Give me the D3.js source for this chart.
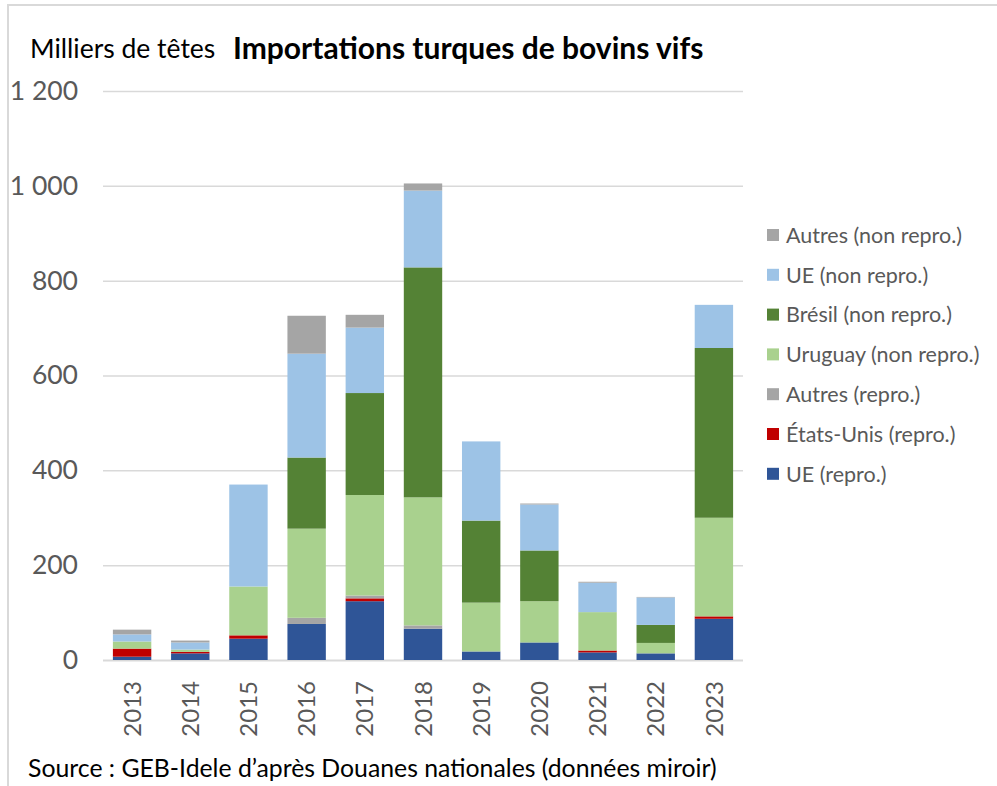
<!DOCTYPE html>
<html>
<head>
<meta charset="utf-8">
<script src="https://cdn.jsdelivr.net/npm/d3@7"></script>
<style>
  body { margin: 0; background: #fff; }
  svg text { font-family: Lato, "Open Sans", sans-serif; }
</style>
</head>
<body>
<svg id="chart" width="997" height="786"></svg>
<script>
// data, thousands of head
var years = ["2013", "2014", "2015", "2016", "2017", "2018", "2019", "2020", "2021", "2022", "2023"];
var ueRepro      = [7, 14, 45, 76, 124, 66, 18, 37, 16, 14, 87];
var usRepro      = [17, 3, 7, 0, 6, 0, 0, 0, 4, 0, 5];
var autresRepro  = [0, 0, 0, 13, 6, 7, 0, 0, 0, 0, 0];
var uruguayNon   = [15, 5, 103, 188, 212, 270, 103, 87, 81, 22, 208];
var bresilNon    = [0, 0, 0, 150, 215, 485, 173, 107, 0, 38, 358];
var ueNon        = [15, 15, 215, 219, 138, 162, 167, 97, 62, 58, 91];
var autresNon    = [10, 4, 0, 80, 27, 15, 0, 2, 2, 1, 0];
var yTicks = [0, 200, 400, 600, 800, 1000, 1200];

// series from bottom to top
var series = [
    {key: "UE (repro.)", values: ueRepro, color: "#2F5597"},
    {key: "États-Unis (repro.)", values: usRepro, color: "#C00000"},
    {key: "Autres (repro.)", values: autresRepro, color: "#A5A5A5"},
    {key: "Uruguay (non repro.)", values: uruguayNon, color: "#A9D18E"},
    {key: "Brésil (non repro.)", values: bresilNon, color: "#548235"},
    {key: "UE (non repro.)", values: ueNon, color: "#9DC3E6"},
    {key: "Autres (non repro.)", values: autresNon, color: "#A5A5A5"}
];

var table = years.map(function(y, i) {
    var row = {year: y};
    series.forEach(function(s) { row[s.key] = s.values[i]; });
    return row;
});

var svg = d3.select("#chart");

// outer frame (left + top only visible)
svg.append("path")
    .attr("d", "M8,786 L8,5 L997,5")
    .attr("fill", "none")
    .attr("stroke", "#d9d9d9")
    .attr("stroke-width", 2);

var x = d3.scaleBand()
    .domain(years)
    .range([103, 743])
    .paddingInner(0.34)
    .paddingOuter(0.17);

var y = d3.scaleLinear()
    .domain([0, 1200])
    .range([660, 91]);

var fr = d3.formatLocale({decimal: ",", thousands: " ", grouping: [3], currency: ["", " €"]});

// gridlines + y labels
var yAxis = svg.append("g")
    .attr("transform", "translate(103,0)")
    .call(d3.axisLeft(y).tickValues(yTicks).tickSize(-640).tickPadding(25).tickFormat(fr.format(",")));
yAxis.select(".domain").remove();
yAxis.selectAll(".tick line")
    .attr("stroke", "#d9d9d9")
    .attr("stroke-width", function(d) { return d === 0 ? 2 : 1.5; });
yAxis.selectAll(".tick text")
    .attr("fill", "#595959")
    .style("font-size", "26.5px")
    .style("font-family", "Lato, sans-serif");

// stacked bars
var stack = d3.stack().keys(series.map(function(s) { return s.key; }));
var layers = stack(table);

svg.append("g").selectAll("g")
    .data(layers)
    .enter().append("g")
        .attr("fill", function(d, i) { return series[i].color; })
    .selectAll("rect")
    .data(function(d) { return d; })
    .enter().append("rect")
        .attr("x", function(d) { return x(d.data.year); })
        .attr("width", x.bandwidth())
        .attr("y", function(d) { return y(d[1]); })
        .attr("height", function(d) { return y(d[0]) - y(d[1]); });

// year labels, rotated
svg.append("g").selectAll("text")
    .data(years)
    .enter().append("text")
        .attr("transform", function(d) { return "translate(" + (x(d) + x.bandwidth() / 2) + ",681) rotate(-90)"; })
        .attr("text-anchor", "end")
        .attr("dy", "0.36em")
        .attr("fill", "#595959")
        .style("font-size", "24px")
        .text(function(d) { return d; });

// legend (top to bottom = reversed stack order)
var legendData = series.slice().reverse();
var legend = svg.append("g").attr("transform", "translate(767,235)");
var items = legend.selectAll("g")
    .data(legendData)
    .enter().append("g")
        .attr("transform", function(d, i) { return "translate(0," + (i * 39.8) + ")"; });
items.append("rect")
    .attr("x", 0).attr("y", -6)
    .attr("width", 12).attr("height", 12)
    .attr("fill", function(d) { return d.color; });
items.append("text")
    .attr("x", 19)
    .attr("dy", "0.36em")
    .attr("fill", "#595959")
    .style("font-size", "21.5px")
    .text(function(d) { return d.key; });

// titles
svg.append("text")
    .attr("x", 30).attr("y", 58)
    .attr("fill", "#000")
    .style("font-size", "26.5px")
    .text("Milliers de têtes");
svg.append("text")
    .attr("x", 233).attr("y", 59)
    .attr("fill", "#000")
    .style("font-size", "30px")
    .style("font-weight", "bold")
    .text("Importations turques de bovins vifs");

// source
svg.append("text")
    .attr("x", 28).attr("y", 777)
    .attr("fill", "#000")
    .style("font-size", "24.8px")
    .text("Source : GEB-Idele d’après Douanes nationales (données miroir)");
</script>
</body>
</html>
